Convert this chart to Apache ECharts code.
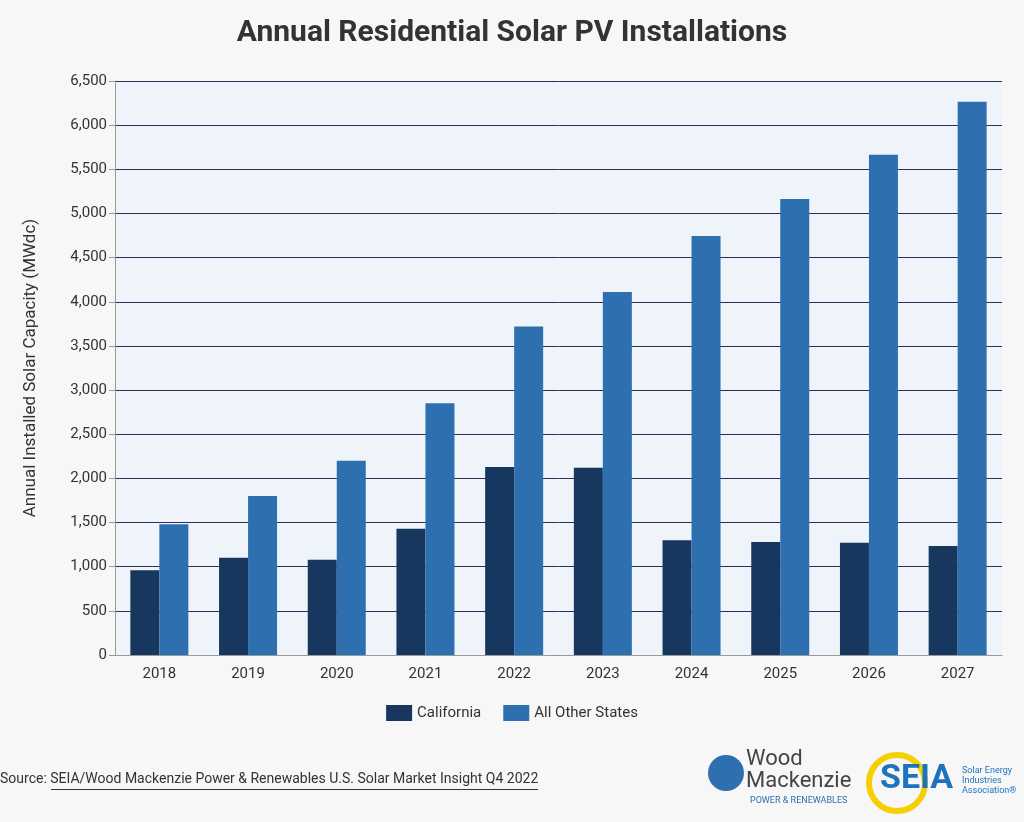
<!DOCTYPE html>
<html><head><meta charset="utf-8">
<script src="https://cdn.jsdelivr.net/npm/echarts@6/dist/echarts.min.js"></script>
<style>html,body{margin:0;background:#f7f7f7}#c{width:1024px;height:822px}</style>
</head><body><div id="c"></div>
<script>
const categories=['2018','2019','2020','2021','2022','2023','2024','2025','2026','2027'];
const california=[960,1100,1080,1430,2130,2120,1300,1280,1270,1235];
const otherStates=[1480,1800,2200,2850,3720,4110,4745,5165,5665,6265];
const chart=echarts.init(document.getElementById('c'));
chart.setOption({
  backgroundColor:'#f7f7f7',
  title:{text:'Annual Residential Solar PV Installations',left:'center',top:13,textStyle:{fontFamily:'Roboto',fontWeight:'bold',fontSize:30,color:'#333'}},
  grid:{left:115,right:22,top:81,bottom:167,backgroundColor:'#eef4f9',show:true,borderWidth:0},
  legend:{bottom:96,itemWidth:26,itemHeight:16,itemGap:22,textStyle:{fontFamily:'Roboto',fontSize:15,color:'#333'},data:['California','All Other States'],icon:'rect'},
  xAxis:{type:'category',data:categories,axisTick:{show:false},axisLine:{lineStyle:{color:'#999'}},axisLabel:{fontFamily:'Roboto',fontSize:15,color:'#333',margin:12}},
  yAxis:{type:'value',min:0,max:6500,interval:500,name:'Annual Installed Solar Capacity (MWdc)',nameLocation:'middle',nameGap:76,nameTextStyle:{fontFamily:'Roboto',fontSize:17,color:'#333'},
    axisLabel:{fontFamily:'Roboto',fontSize:15,color:'#333',formatter:v=>v.toLocaleString('en-US')},
    splitLine:{lineStyle:{color:'#2b2f5a',width:1}},axisLine:{show:true,lineStyle:{color:'#999'}},axisTick:{show:true,length:6,lineStyle:{color:'#999'}}},
  series:[
    {name:'California',type:'bar',data:california,itemStyle:{color:'#17375e'},barWidth:29,barGap:'0%'},
    {name:'All Other States',type:'bar',data:otherStates,itemStyle:{color:'#2e6fb0'},barWidth:29}
  ],
  graphic:[
    {type:'text',left:0,top:772,style:{text:'Source: SEIA/Wood Mackenzie Power & Renewables U.S. Solar Market Insight Q4 2022',font:'14px Roboto',fill:'#333'}},
    {type:'rect',left:51,top:789,shape:{width:487,height:1},style:{fill:'#333'}},
    {type:'circle',left:708,top:755,shape:{r:18},style:{fill:'#2e6fb0'}},
    {type:'text',left:746,top:748,style:{text:'Wood\nMackenzie',font:'22px Roboto',fill:'#444',lineHeight:22}},
    {type:'text',left:750,top:796,style:{text:'POWER & RENEWABLES',font:'9px Roboto',fill:'#2e6fb0'}},
    {type:'circle',left:866,top:752,shape:{r:28},style:{fill:'none',stroke:'#f5d000',lineWidth:6}},
    {type:'text',left:880,top:762,style:{text:'SEIA',font:'bold 34px Roboto',fill:'#1e73be'}},
    {type:'text',left:962,top:766,style:{text:'Solar Energy\nIndustries\nAssociation®',font:'9px Roboto',fill:'#1e73be',lineHeight:10}}
  ]
});
</script></body></html>
